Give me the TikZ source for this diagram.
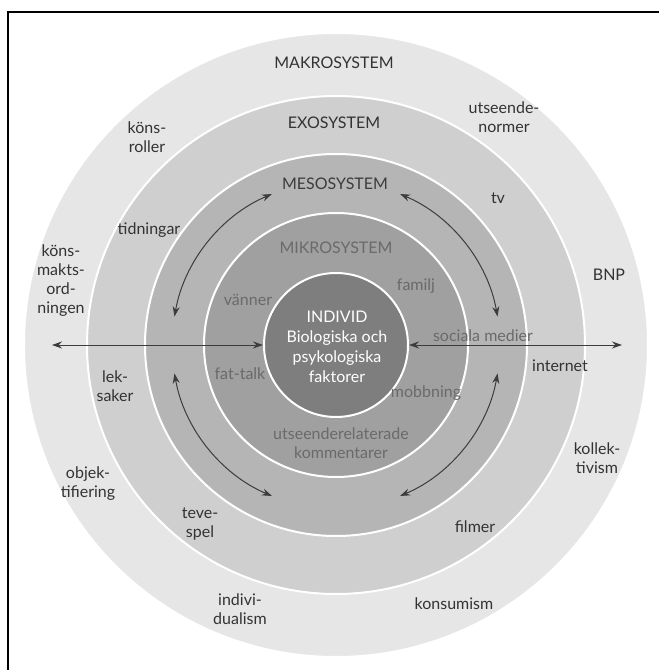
\documentclass[tikz,border=0pt]{standalone}
\usepackage{fontspec}
\setmainfont{Lato}
\usetikzlibrary{arrows.meta,shapes,positioning}
\usepackage{xcolor}

\definecolor{makrogray}{HTML}{E6E6E6}
\definecolor{exogray}{HTML}{CFCFCF}
\definecolor{mesogray}{HTML}{B5B5B5}
\definecolor{mikrogray}{HTML}{A0A0A0}
\definecolor{individgray}{HTML}{7E7E7E}
\definecolor{labelgray}{HTML}{333333}
\definecolor{mutedgray}{HTML}{6A6A6A}
\definecolor{arrowgray}{HTML}{3C3C3C}

\tikzset{
  system/.style={circle, draw=white, line width=2pt, inner sep=0pt},
  lbl/.style={font=\fontsize{16}{19}\selectfont, align=center, text=labelgray, inner sep=1pt},
  muted/.style={lbl, text=mutedgray},
  link/.style={<->, draw=arrowgray, line width=1pt}
}

\begin{document}
\begin{tikzpicture}[x=1pt, y=1pt, >={Stealth[length=10pt, width=7pt]}]
    \useasboundingbox (-336,-325) rectangle (323,345);
    % Frame
    \draw[line width=1.6pt] (-328,-325) -- (-328,333) -- (323,333);

    % Circles
    \node[system, fill=makrogray, minimum size=624] (makro) at (0,0) {};
    \node[system, fill=exogray, minimum size=498] (exo) at (0,0) {};
    \node[system, fill=mesogray, minimum size=382] (meso) at (0,0) {};
    \node[system, fill=mikrogray, minimum size=264] (mikro) at (0,0) {};
    \node[system, fill=individgray, minimum size=144] (individ) at (0,0) {};

    % System names
    \node[lbl] (n-makro) at (-2,282) {MAKROSYSTEM};
    \node[lbl] (n-exo) at (-2,222) {EXOSYSTEM};
    \node[lbl, text=arrowgray] (n-meso) at (-1,161) {MESOSYSTEM};
    \node[muted] (n-mikro) at (0,97) {MIKROSYSTEM};
    \node[lbl, text=white, font=\fontsize{16}{20}\selectfont] (n-individ) at (1,-2)
        {INDIVID\\Biologiska och\\psykologiska\\faktorer};

    % Makro labels
    \node[lbl] (konsroller) at (-189,208) {köns-\\roller};
    \node[lbl] (normer) at (168,228) {utseende-\\normer};
    \node[lbl] (ordningen) at (-275,64) {köns-\\makts-\\ord-\\ningen};
    \node[lbl] (bnp) at (273,70) {BNP};
    \node[lbl] (kollektivism) at (261,-113) {kollek-\\tivism};
    \node[lbl] (objekt) at (-248,-139) {objek-\\tifiering};
    \node[lbl] (individualism) at (-96,-264) {indivi-\\dualism};
    \node[lbl] (konsumism) at (118,-259) {konsumism};

    % Exo labels
    \node[lbl] (tv) at (162,147) {tv};
    \node[lbl] (tidningar) at (-187,115) {tidningar};
    \node[lbl] (internet) at (224,-21) {internet};
    \node[lbl] (leksaker) at (-221,-41) {lek-\\saker};
    \node[lbl] (tevespel) at (-136,-179) {teve-\\spel};
    \node[lbl] (filmer) at (139,-182) {filmer};

    % Mikro labels
    \node[muted] (familj) at (80,59) {familj};
    \node[muted] (vanner) at (-88,45) {vänner};
    \node[muted] (medier) at (147,9) {sociala medier};
    \node[muted] (fattalk) at (-96,-29) {fat-talk};
    \node[muted] (mobbning) at (90,-48) {mobbning};
    \node[muted] (kommentarer) at (5,-98) {utseenderelaterade\\kommentarer};

    % Arrows
    \coordinate (west-end) at (-284,0);
    \coordinate (east-end) at (286,0);
    \draw[link] (west-end) -- (individ.west);
    \draw[link] (individ.east) -- (east-end);

    \coordinate (arc-nw) at (113:164);
    \coordinate (arc-ne) at (10:164);
    \coordinate (arc-sw) at (190:164);
    \coordinate (arc-se) at (293:164);
    \draw[link] (arc-nw) arc[start angle=113, end angle=170, radius=164];
    \draw[link] (arc-ne) arc[start angle=10, end angle=67, radius=164];
    \draw[link] (arc-sw) arc[start angle=190, end angle=247, radius=164];
    \draw[link] (arc-se) arc[start angle=293, end angle=350, radius=164];
\end{tikzpicture}
\end{document}
